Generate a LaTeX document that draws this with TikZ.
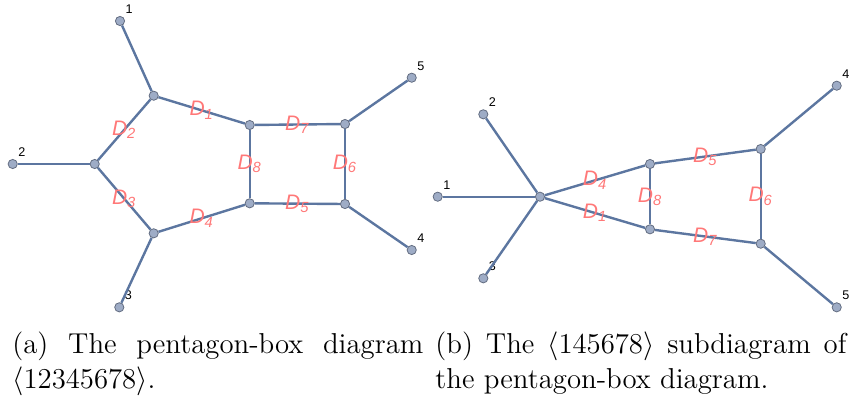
\documentclass[tikz,border=0pt]{standalone}
\usepackage{fontspec}
\usepackage{amsmath}
\newfontfamily\graphfont{Liberation Sans}
\definecolor{edgeblue}{RGB}{92,118,160}
\definecolor{vertfill}{RGB}{158,172,198}
\definecolor{vertline}{RGB}{98,108,128}
\definecolor{proplabel}{RGB}{255,120,120}

\begin{document}
\begin{tikzpicture}[
    x=0.5pt, y=-0.5pt,
    vert/.style={circle, draw=vertline, fill=vertfill, line width=0.4pt, inner sep=0pt, minimum size=4.6pt},
    link/.style={draw=edgeblue, line width=1.2pt},
    dlab/.style={text=proplabel, font=\graphfont\fontsize{10.5}{11}\selectfont\itshape, inner sep=0pt},
    leg/.style={label={[font=\graphfont\fontsize{6.3}{7}\selectfont, inner sep=0.5pt, label distance=1.2pt]55:#1}},
    capt/.style={text width=205.5pt, align=justify, inner sep=0pt, anchor=north west, font=\fontsize{14.4}{17.5}\selectfont},
]
\useasboundingbox (0,0) rectangle (851,397);

% (a) pentagon-box
\node[vert, leg=1] (a1) at (120,21) {};
\node[vert, leg=2] (a2) at (12.7,164) {};
\node[vert, leg=3] (a3) at (119.3,307.3) {};
\node[vert, leg=4] (a4) at (411.7,250) {};
\node[vert, leg=5] (a5) at (411.7,77.7) {};
\node[vert] (aA) at (153.7,95.7) {};
\node[vert] (aB) at (94.7,164) {};
\node[vert] (aC) at (153.7,233.3) {};
\node[vert] (aP) at (249.7,125) {};
\node[vert] (aQ) at (249.7,203.3) {};
\node[vert] (aR) at (345,124) {};
\node[vert] (aS) at (345,204) {};

\draw[link] (a1) -- (aA);
\draw[link] (a2) -- (aB);
\draw[link] (a3) -- (aC);
\draw[link] (a4) -- (aS);
\draw[link] (a5) -- (aR);
\draw[link] (aA) -- (aP);
\draw[link] (aA) -- (aB);
\draw[link] (aB) -- (aC);
\draw[link] (aC) -- (aQ);
\draw[link] (aP) -- (aQ);
\draw[link] (aP) -- (aR);
\draw[link] (aQ) -- (aS);
\draw[link] (aR) -- (aS);

\path (aA) -- node[dlab] {D\textsubscript{1}} (aP);
\path (aB) -- node[dlab] {D\textsubscript{2}} (aA);
\path (aB) -- node[dlab] {D\textsubscript{3}} (aC);
\path (aC) -- node[dlab] {D\textsubscript{4}} (aQ);
\path (aQ) -- node[dlab] {D\textsubscript{5}} (aS);
\path (aR) -- node[dlab] {D\textsubscript{6}} (aS);
\path (aP) -- node[dlab] {D\textsubscript{7}} (aR);
\path (aP) -- node[dlab] {D\textsubscript{8}} (aQ);

% (b) subdiagram
\node[vert, leg=1] (b1) at (437.7,196.7) {};
\node[vert, leg=2] (b2) at (483.3,114.3) {};
\node[vert, leg=3] (b3) at (483.3,278.3) {};
\node[vert, leg=4] (b4) at (836.7,85.7) {};
\node[vert, leg=5] (b5) at (836.7,307.3) {};
\node[vert] (bV) at (540,196.7) {};
\node[vert] (bP) at (650,164) {};
\node[vert] (bQ) at (650,229.3) {};
\node[vert] (bR) at (760.7,149) {};
\node[vert] (bS) at (760.7,243.7) {};

\draw[link] (b1) -- (bV);
\draw[link] (b2) -- (bV);
\draw[link] (b3) -- (bV);
\draw[link] (b4) -- (bR);
\draw[link] (b5) -- (bS);
\draw[link] (bV) -- (bP);
\draw[link] (bV) -- (bQ);
\draw[link] (bP) -- (bQ);
\draw[link] (bP) -- (bR);
\draw[link] (bQ) -- (bS);
\draw[link] (bR) -- (bS);

\path (bV) -- node[dlab] {D\textsubscript{1}} (bQ);
\path (bV) -- node[dlab] {D\textsubscript{4}} (bP);
\path (bP) -- node[dlab] {D\textsubscript{5}} (bR);
\path (bR) -- node[dlab] {D\textsubscript{6}} (bS);
\path (bQ) -- node[dlab] {D\textsubscript{7}} (bS);
\path (bP) -- node[dlab] {D\textsubscript{8}} (bQ);

% captions
\node[capt] (capa) at (12,331) {(a) The pentagon-box diagram $\langle 12345678\rangle$.};
\node[capt] (capb) at (435,331) {(b) The $\langle 145678\rangle$ subdiagram of the pentagon-box diagram.};

\end{tikzpicture}
\end{document}
